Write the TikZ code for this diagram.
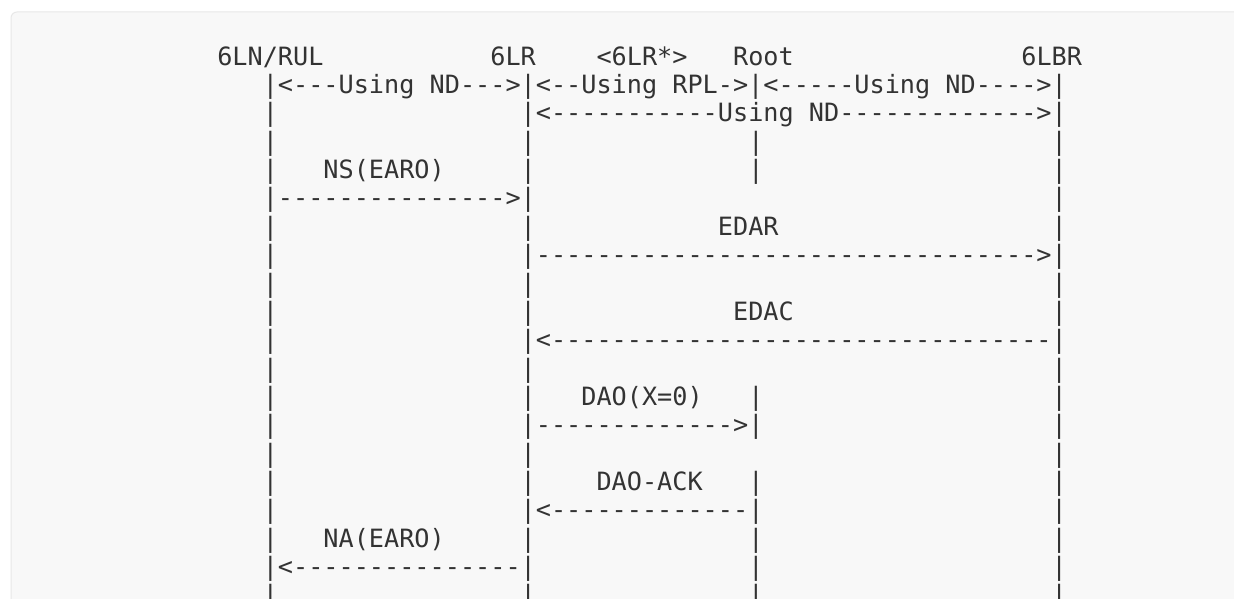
\documentclass[tikz,border=0pt]{standalone}
\usepackage{fontspec}
\setmonofont{DejaVu Sans Mono}
\usepackage{tikz}

\definecolor{ink}{HTML}{333333}
\definecolor{panel}{HTML}{F8F8F8}
\definecolor{panelrule}{HTML}{E8E8E8}

% n blank character cells of the mono font
\newcommand{\colskip}[1]{\hspace*{#1\fontcharwd\font`\0}}

\begin{document}
\begin{tikzpicture}[x=0.75pt, y=-0.75pt,
    asciirow/.style={anchor=base west, inner sep=0pt, text=ink,
      font=\ttfamily\fontsize{18.9pt}{22pt}\selectfont}]

   % page and the grey code panel
   \useasboundingbox (0,0) rectangle (1234,599);
   \clip (0,0) rectangle (1234,599);
   \fill[white] (0,0) rectangle (1234,599);
   \draw[panelrule, fill=panel, line width=0.75pt, rounded corners=4.5pt] (11,12) rectangle (1260,640);

   % Parties
   \node[asciirow] (parties) at (217, 65.2) {6LN/RUL\colskip{11}6LR\colskip{4}<6LR*>\colskip{3}Root\colskip{15}6LBR};

   % Protocol scopes
   \node[asciirow] (scope_short) at (217, 93.55) {\colskip{3}|<---Using ND--->|<--Using RPL->|<-----Using ND---->|};
   \node[asciirow] (scope_long) at (217, 121.9) {\colskip{3}|\colskip{16}|<-----------Using ND------------->|};
   \node[asciirow] (gap_a) at (217, 150.25) {\colskip{3}|\colskip{16}|\colskip{14}|\colskip{19}|};

   % NS(EARO)
   \node[asciirow] (ns_lbl) at (217, 178.6) {\colskip{3}|\colskip{3}NS(EARO)\colskip{5}|\colskip{14}|\colskip{19}|};
   \node[asciirow] (ns_msg) at (217, 206.95) {\colskip{3}|--------------->|\colskip{34}|};

   % EDAR / EDAC
   \node[asciirow] (edar_lbl) at (217, 235.3) {\colskip{3}|\colskip{16}|\colskip{12}EDAR\colskip{18}|};
   \node[asciirow] (edar_msg) at (217, 263.65) {\colskip{3}|\colskip{16}|--------------------------------->|};
   \node[asciirow] (gap_b) at (217, 292.0) {\colskip{3}|\colskip{16}|\colskip{34}|};
   \node[asciirow] (edac_lbl) at (217, 320.35) {\colskip{3}|\colskip{16}|\colskip{13}EDAC\colskip{17}|};
   \node[asciirow] (edac_msg) at (217, 348.7) {\colskip{3}|\colskip{16}|<---------------------------------|};
   \node[asciirow] (gap_c) at (217, 377.05) {\colskip{3}|\colskip{16}|\colskip{34}|};

   % DAO / DAO-ACK
   \node[asciirow] (dao_lbl) at (217, 405.4) {\colskip{3}|\colskip{16}|\colskip{3}DAO(X=0)\colskip{3}|\colskip{19}|};
   \node[asciirow] (dao_msg) at (217, 433.75) {\colskip{3}|\colskip{16}|------------->|\colskip{19}|};
   \node[asciirow] (gap_d) at (217, 462.1) {\colskip{3}|\colskip{16}|\colskip{34}|};
   \node[asciirow] (ack_lbl) at (217, 490.45) {\colskip{3}|\colskip{16}|\colskip{4}DAO-ACK\colskip{3}|\colskip{19}|};
   \node[asciirow] (ack_msg) at (217, 518.8) {\colskip{3}|\colskip{16}|<-------------|\colskip{19}|};

   % NA(EARO)
   \node[asciirow] (na_lbl) at (217, 547.15) {\colskip{3}|\colskip{3}NA(EARO)\colskip{5}|\colskip{14}|\colskip{19}|};
   \node[asciirow] (na_msg) at (217, 575.5) {\colskip{3}|<---------------|\colskip{14}|\colskip{19}|};
   \node[asciirow] (gap_e) at (217, 603.85) {\colskip{3}|\colskip{16}|\colskip{14}|\colskip{19}|};

\end{tikzpicture}
\end{document}
